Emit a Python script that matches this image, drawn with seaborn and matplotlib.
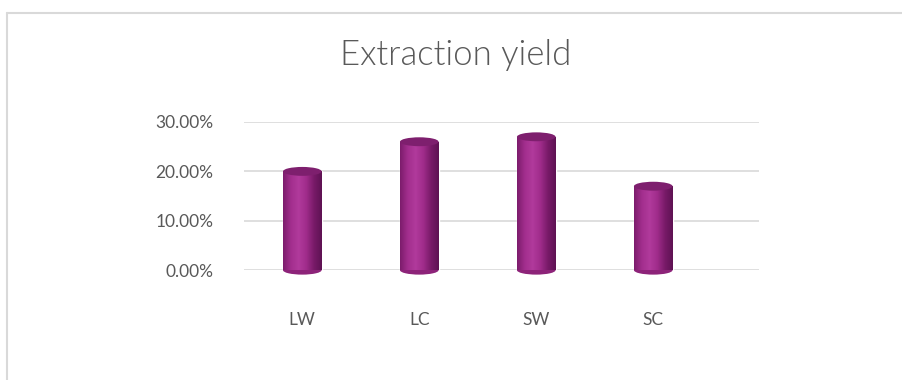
import numpy as np
import pandas as pd
import seaborn as sns
import matplotlib.pyplot as plt
from matplotlib.colors import LinearSegmentedColormap
from matplotlib.patches import Ellipse
from matplotlib.lines import Line2D
from matplotlib.ticker import PercentFormatter

samples = ['LW', 'LC', 'SW', 'SC']
yields = [0.20, 0.26, 0.27, 0.17]
yticks = [0.0, 0.10, 0.20, 0.30]

df = pd.DataFrame({'Sample': samples, 'Yield': yields})

sns.set_style('white')
plt.rcParams['font.family'] = ['Lato', 'DejaVu Sans']

fig = plt.figure(figsize=(9.03, 3.8), dpi=100)
ax = fig.add_axes([0.27, 0.289, 0.57, 0.39])

sns.barplot(data=df, x='Sample', y='Yield', color='#a32c8e', width=0.33, ax=ax, zorder=3)

# cylinder shading
cyl = LinearSegmentedColormap.from_list('cyl', ['#7c1c6c', '#a22e8d', '#b13a9c', '#a02c8b', '#781a68', '#5e1253'])
grad = np.linspace(0, 1, 200).reshape(1, -1)
cap_h = 0.018
for bar in ax.patches:
    x, w, h = bar.get_x(), bar.get_width(), bar.get_height()
    im = ax.imshow(grad, cmap=cyl, extent=[x, x + w, 0, h], aspect='auto', zorder=4)
    im.set_clip_path(bar)
    bottom = Ellipse((x + w / 2, 0), w, cap_h, facecolor='#8d2379', edgecolor='none', zorder=2, clip_on=False)
    top = Ellipse((x + w / 2, h), w, cap_h, facecolor='#7e1f6e', edgecolor='none', zorder=5, clip_on=False)
    ax.add_patch(bottom)
    ax.add_patch(top)

ax.set_xlim(-0.5, 3.9)
ax.set_ylim(0, 0.30)
ax.set_yticks(yticks)
ax.yaxis.set_major_formatter(PercentFormatter(1.0, decimals=2))
ax.grid(axis='y', color='#d9d9d9', linewidth=1.2, zorder=0)
ax.set_axisbelow(True)
for s in ax.spines.values():
    s.set_visible(False)
ax.tick_params(axis='both', length=0, labelsize=12.5, labelcolor='#595959')
ax.tick_params(axis='y', pad=22)
ax.tick_params(axis='x', pad=30)
ax.set_xlabel('')
ax.set_ylabel('')

fig.text(0.505, 0.855, 'Extraction yield', ha='center', va='center', fontsize=25,
         fontweight=300, color='#595959')

# chart border (top and left visible)
fig.add_artist(Line2D([0.008, 1.0], [0.966, 0.966], color='#d9d9d9', linewidth=1.5))
fig.add_artist(Line2D([0.008, 0.008], [0.0, 0.966], color='#d9d9d9', linewidth=1.5))

fig.savefig('out.png', dpi=100)
